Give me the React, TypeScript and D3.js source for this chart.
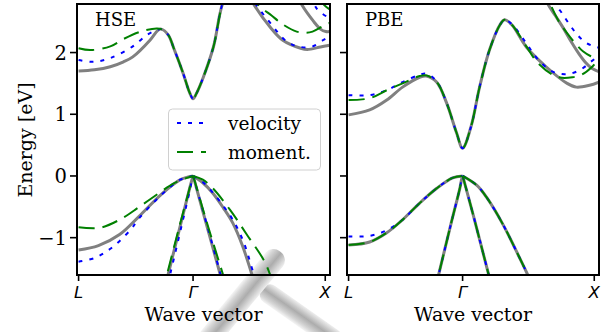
import React from "react";
import * as d3 from "d3";

type Pt = [number, number];

const GAMMA = 0.866;
const XPOINT = 1.866;
const kTicks = [0, GAMMA, XPOINT];
const kTickLabels = ["L", "Γ", "X"];
const energyTicks = [-1, 0, 1, 2];
const energyTickLabels = ["−1", "0", "1", "2"];
const legendLabels = ["velocity", "moment."];

// ---- HSE, reference bands (gray)
const hseRef: Pt[][] = [
  [[0, 1.7], [0.12, 1.72], [0.24, 1.77], [0.34, 1.85], [0.41, 1.93], [0.54, 2.2], [0.6, 2.36], [0.625, 2.38], [0.68, 2.28], [0.72, 2.07], [0.79, 1.67], [0.84, 1.35], [0.866, 1.25], [0.89, 1.33], [0.94, 1.58], [1.02, 2.09], [1.09, 2.8], [1.2, 3.3], [1.32, 2.8], [1.45, 2.41], [1.545, 2.2], [1.68, 2.07], [1.73, 2.05], [1.83, 2.09], [1.9, 2.12]],
  [[1.55, 3.4], [1.69, 2.77], [1.78, 2.5], [1.83, 2.38], [1.87, 2.34], [1.9, 2.34]],
  [[0, -1.2], [0.15, -1.13], [0.31, -0.95], [0.46, -0.65], [0.62, -0.31], [0.77, -0.06], [0.866, 0]],
  [[0.64, -1.92], [0.677, -1.6], [0.77, -0.8], [0.84, -0.2], [0.855, -0.08], [0.866, 0]],
  [[0.866, 0], [0.877, -0.08], [0.95, -0.65], [1.072, -1.6], [1.11, -1.9]],
  [[0.866, 0], [0.94, -0.11], [1.016, -0.28], [1.096, -0.52], [1.166, -0.76], [1.24, -1.13], [1.312, -1.6], [1.35, -1.85]],
];

// ---- HSE, velocity bands (blue)
const hseVelocity: Pt[][] = [
  [[0, 1.88], [0.11, 1.85], [0.24, 1.91], [0.41, 2.1], [0.52, 2.29], [0.6, 2.37], [0.625, 2.38], [0.68, 2.28], [0.72, 2.07], [0.79, 1.67], [0.84, 1.35], [0.866, 1.25], [0.89, 1.33], [0.94, 1.58], [1.02, 2.09], [1.09, 2.8], [1.2, 3.3], [1.32, 2.85], [1.45, 2.48], [1.58, 2.17], [1.68, 2.09], [1.77, 2.1], [1.85, 2.2], [1.9, 2.26]],
  [[1.65, 3.4], [1.78, 2.79], [1.81, 2.69], [1.88, 2.58], [1.9, 2.56]],
  [[0, -1.39], [0.12, -1.33], [0.24, -1.18], [0.39, -0.88], [0.46, -0.68], [0.62, -0.32], [0.77, -0.06], [0.866, 0]],
  [[0.655, -1.92], [0.692, -1.6], [0.78, -0.8], [0.845, -0.2], [0.856, -0.08], [0.866, 0]],
  [[0.866, 0], [0.877, -0.08], [0.95, -0.63], [1.075, -1.6], [1.11, -1.88]],
  [[0.866, 0], [0.94, -0.1], [1.016, -0.27], [1.1, -0.5], [1.17, -0.72], [1.25, -1.08], [1.327, -1.6], [1.37, -1.85]],
];

// ---- HSE, momentum bands (green)
const hseMoment: Pt[][] = [
  [[0, 2.07], [0.09, 2.04], [0.24, 2.1], [0.34, 2.22], [0.47, 2.34], [0.59, 2.39], [0.625, 2.38], [0.68, 2.28], [0.72, 2.07], [0.79, 1.67], [0.84, 1.35], [0.866, 1.25], [0.89, 1.33], [0.94, 1.58], [1.02, 2.09], [1.09, 2.8], [1.2, 3.4], [1.35, 2.8], [1.46, 2.6], [1.55, 2.45], [1.65, 2.34], [1.72, 2.32], [1.77, 2.34], [1.85, 2.43], [1.9, 2.48]],
  [[1.75, 3.2], [1.83, 2.84], [1.88, 2.73], [1.9, 2.7]],
  [[0, -0.83], [0.16, -0.84], [0.31, -0.71], [0.46, -0.5], [0.62, -0.26], [0.72, -0.12], [0.82, -0.03], [0.866, 0]],
  [[0.635, -1.92], [0.669, -1.6], [0.765, -0.8], [0.84, -0.2], [0.855, -0.08], [0.866, 0]],
  [[0.866, 0], [0.878, -0.08], [0.96, -0.68], [1.093, -1.6], [1.13, -1.85]],
  [[0.866, 0], [0.94, -0.06], [1.016, -0.2], [1.146, -0.55], [1.276, -0.96], [1.4, -1.36], [1.449, -1.6], [1.48, -1.8]],
];

// ---- PBE, reference bands (gray)
const pbeRef: Pt[][] = [
  [[0, 0.99], [0.16, 1.07], [0.29, 1.23], [0.41, 1.44], [0.54, 1.6], [0.59, 1.62], [0.67, 1.52], [0.745, 1.18], [0.82, 0.7], [0.866, 0.45], [0.93, 0.8], [0.995, 1.44], [1.07, 2.04], [1.15, 2.45], [1.185, 2.53], [1.24, 2.45], [1.35, 2.09], [1.5, 1.77], [1.66, 1.5], [1.73, 1.44], [1.83, 1.47], [1.9, 1.52]],
  [[1.45, 3.1], [1.51, 2.8], [1.57, 2.6], [1.63, 2.4], [1.69, 2.18], [1.75, 1.98], [1.8, 1.84], [1.85, 1.74], [1.9, 1.69]],
  [[0, -1.12], [0.16, -1.07], [0.29, -0.92], [0.41, -0.71], [0.54, -0.44], [0.67, -0.2], [0.79, -0.03], [0.866, 0]],
  [[0.65, -1.9], [0.684, -1.6], [0.775, -0.8], [0.845, -0.2], [0.856, -0.08], [0.866, 0]],
  [[0.866, 0], [0.877, -0.08], [0.95, -0.66], [1.064, -1.6], [1.1, -1.9]],
  [[0.866, 0], [0.973, -0.15], [1.046, -0.34], [1.166, -0.76], [1.295, -1.31], [1.36, -1.6], [1.4, -1.8]],
];

// ---- PBE, velocity bands (blue)
const pbeVelocity: Pt[][] = [
  [[0, 1.31], [0.16, 1.31], [0.29, 1.39], [0.41, 1.52], [0.54, 1.64], [0.59, 1.66], [0.67, 1.53], [0.745, 1.18], [0.82, 0.7], [0.866, 0.45], [0.93, 0.8], [0.995, 1.44], [1.07, 2.04], [1.15, 2.45], [1.185, 2.53], [1.24, 2.46], [1.35, 2.15], [1.43, 1.91], [1.55, 1.69], [1.66, 1.65], [1.76, 1.72], [1.84, 1.85], [1.9, 1.95]],
  [[1.52, 3.2], [1.58, 2.77], [1.62, 2.64], [1.68, 2.45], [1.74, 2.28], [1.81, 2.15], [1.88, 2.09], [1.9, 2.08]],
  [[0, -0.98], [0.16, -0.97], [0.29, -0.88], [0.41, -0.71], [0.54, -0.44], [0.67, -0.2], [0.79, -0.03], [0.866, 0]],
  [[0.65, -1.9], [0.684, -1.6], [0.775, -0.8], [0.845, -0.2], [0.856, -0.08], [0.866, 0]],
  [[0.866, 0], [0.877, -0.08], [0.95, -0.66], [1.064, -1.6], [1.1, -1.9]],
  [[0.866, 0], [0.973, -0.15], [1.046, -0.34], [1.166, -0.76], [1.295, -1.31], [1.36, -1.6], [1.4, -1.8]],
];

// ---- PBE, momentum bands (green)
const pbeMoment: Pt[][] = [
  [[0, 1.23], [0.16, 1.26], [0.29, 1.39], [0.41, 1.5], [0.54, 1.62], [0.59, 1.63], [0.67, 1.52], [0.745, 1.18], [0.82, 0.7], [0.866, 0.45], [0.93, 0.8], [0.995, 1.44], [1.07, 2.04], [1.15, 2.45], [1.185, 2.53], [1.24, 2.45], [1.35, 2.1], [1.43, 1.85], [1.55, 1.64], [1.62, 1.59], [1.7, 1.6], [1.77, 1.64], [1.85, 1.77], [1.9, 1.9]],
  [[1.48, 3.1], [1.53, 2.8], [1.59, 2.53], [1.63, 2.4], [1.68, 2.26], [1.73, 2.13], [1.78, 2.02], [1.84, 1.94], [1.9, 1.9]],
  [[0, -1.12], [0.16, -1.07], [0.29, -0.92], [0.41, -0.71], [0.54, -0.44], [0.67, -0.2], [0.79, -0.03], [0.866, 0]],
  [[0.65, -1.9], [0.684, -1.6], [0.775, -0.8], [0.845, -0.2], [0.856, -0.08], [0.866, 0]],
  [[0.866, 0], [0.877, -0.08], [0.95, -0.66], [1.064, -1.6], [1.1, -1.9]],
  [[0.866, 0], [0.973, -0.15], [1.046, -0.34], [1.166, -0.76], [1.295, -1.31], [1.36, -1.6], [1.4, -1.8]],
];

const serif = "DejaVu Serif";
const top = 4;
const bottom = 275;

const styles = {
  ref: { stroke: "#808080", width: 3, dash: undefined as string | undefined },
  velocity: { stroke: "#0000ff", width: 2, dash: "4 7" },
  moment: { stroke: "#008000", width: 2, dash: "16 8" },
};

const panels = [
  { id: "hse", title: "HSE", x0: 77, x1: 330, ref: hseRef, velocity: hseVelocity, moment: hseMoment, labels: true },
  { id: "pbe", title: "PBE", x0: 347, x1: 599, ref: pbeRef, velocity: pbeVelocity, moment: pbeMoment, labels: false },
];

const y = d3.scaleLinear().domain([-1.605, 2.787]).range([bottom, top]);

function Watermark() {
  // shaded gray "T" overlay seen in the picture
  return (
    <g opacity={0.95}>
      <defs>
        <linearGradient id="bar" x1="0" y1="0" x2="0" y2="1">
          <stop offset="0" stopColor="#eeeeee" />
          <stop offset="0.45" stopColor="#a8a8a8" />
          <stop offset="0.8" stopColor="#d4d4d4" />
          <stop offset="1" stopColor="#f6f6f6" />
        </linearGradient>
      </defs>
      <g transform="translate(262,289) rotate(35)">
        <rect x={0} y={-10} width={95} height={20} rx={9} fill="url(#bar)" />
      </g>
      <g transform="translate(278,255) rotate(129.6)">
        <rect x={-4} y={-11} width={120} height={22} rx={10} fill="url(#bar)" />
      </g>
    </g>
  );
}

function Panel({ p }: { p: (typeof panels)[number] }) {
  const x = d3.scaleLinear().domain([-0.012, 1.902]).range([p.x0, p.x1]);
  const line = d3
    .line<Pt>()
    .x((d) => x(d[0]))
    .y((d) => y(d[1]))
    .curve(d3.curveCatmullRom.alpha(0.5));
  const groups: [Pt[][], typeof styles.ref][] = [
    [p.ref, styles.ref],
    [p.velocity, styles.velocity],
    [p.moment, styles.moment],
  ];
  return (
    <g>
      <defs>
        <clipPath id={`clip-${p.id}`}>
          <rect x={p.x0} y={top} width={p.x1 - p.x0} height={bottom - top} />
        </clipPath>
      </defs>
      <g clipPath={`url(#clip-${p.id})`}>
        {groups.map(([bands, s], gi) =>
          bands.map((b, i) => (
            <path
              key={`${gi}-${i}`}
              d={line(b) ?? ""}
              fill="none"
              stroke={s.stroke}
              strokeWidth={s.width}
              strokeDasharray={s.dash}
            />
          ))
        )}
      </g>
      <rect x={p.x0} y={top} width={p.x1 - p.x0} height={bottom - top} fill="none" stroke="#000" strokeWidth={2} />
      {energyTicks.map((t, i) => (
        <g key={t}>
          <line x1={p.x0 - 7} x2={p.x0} y1={y(t)} y2={y(t)} stroke="#000" strokeWidth={1.6} />
          {p.labels && (
            <text x={p.x0 - 10} y={y(t) + 7} textAnchor="end" fontFamily={serif} fontSize={19.5}>
              {energyTickLabels[i]}
            </text>
          )}
        </g>
      ))}
      {kTicks.map((t, i) => (
        <g key={t}>
          <line x1={x(t)} x2={x(t)} y1={bottom} y2={bottom + 6} stroke="#000" strokeWidth={1.6} />
          <text x={x(t)} y={298} textAnchor="middle" fontFamily="DejaVu Sans" fontStyle="italic" fontSize={16.5}>
            {kTickLabels[i]}
          </text>
        </g>
      ))}
      <text x={(p.x0 + p.x1) / 2} y={321} textAnchor="middle" fontFamily={serif} fontSize={19}>
        Wave vector
      </text>
      <text x={p.x0 + 18} y={26} fontFamily={serif} fontSize={18}>
        {p.title}
      </text>
    </g>
  );
}

function Legend() {
  const rows = [styles.velocity, styles.moment];
  return (
    <g>
      <rect x={168.5} y={109} width={152} height={61} rx={4} fill="#fff" fillOpacity={0.8} stroke="#d0d0d0" strokeWidth={1} />
      {rows.map((s, i) => (
        <g key={i}>
          <line x1={177} x2={206} y1={123 + i * 29} y2={123 + i * 29} stroke={s.stroke} strokeWidth={s.width} strokeDasharray={s.dash} />
          <text x={228} y={130 + i * 29} fontFamily={serif} fontSize={18.6}>
            {legendLabels[i]}
          </text>
        </g>
      ))}
    </g>
  );
}

export default function App() {
  return (
    <svg width={609} height={332} style={{ position: "absolute", left: 0, top: 0, background: "#fff" }}>
      <Watermark />
      {panels.map((p) => (
        <Panel key={p.id} p={p} />
      ))}
      <Legend />
      <text transform="translate(32,140) rotate(-90)" textAnchor="middle" fontFamily={serif} fontSize={19}>
        Energy [eV]
      </text>
    </svg>
  );
}
